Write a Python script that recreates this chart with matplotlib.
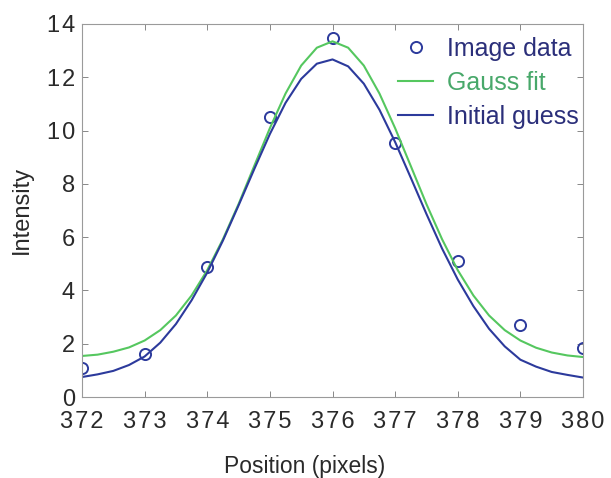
import matplotlib
matplotlib.use("Agg")
import matplotlib.pyplot as plt

# Measured intensity profile
positions = [372, 373, 374, 375, 376, 377, 378, 379, 380]
intensity = [1.10, 1.61, 4.89, 10.50, 13.49, 9.52, 5.10, 2.70, 1.83]

# Curves sampled every quarter pixel
curve_x = [372 + 0.25 * i for i in range(33)]
gauss_fit = [1.54, 1.59, 1.70, 1.86, 2.12, 2.51, 3.06, 3.81, 4.76, 5.92, 7.24,
             8.67, 10.09, 11.39, 12.44, 13.11, 13.35,
             13.11, 12.44, 11.39, 10.09, 8.67, 7.24, 5.92, 4.76, 3.81, 3.06,
             2.51, 2.12, 1.85, 1.67, 1.56, 1.50]
initial_guess = [0.75, 0.85, 0.98, 1.20, 1.52, 2.04, 2.74, 3.63, 4.67, 5.87, 7.19,
                 8.55, 9.87, 11.04, 11.94, 12.51, 12.67,
                 12.41, 11.76, 10.78, 9.57, 8.23, 6.87, 5.57, 4.41, 3.41, 2.56,
                 1.90, 1.40, 1.14, 0.94, 0.83, 0.73]

x_ticks = [372, 373, 374, 375, 376, 377, 378, 379, 380]
y_ticks = [0, 2, 4, 6, 8, 10, 12, 14]

blue = "#2c3a9c"
green = "#55c75f"
text_blue = "#2b2f7a"
text_green = "#48a86a"
ink = "#2a2a2a"

plt.rcParams["font.family"] = ["Liberation Sans", "DejaVu Sans"]


def spaced(v):
    # widen digit spacing slightly with hair spaces
    return "\u200a".join(str(v))


fig = plt.figure(figsize=(6.11, 4.78), dpi=100)
W, H = 611, 478
ax = fig.add_axes([82 / W, 1 - 397 / H, 501 / W, 373 / H])

ax.plot(positions, intensity, linestyle="none", marker="o", markersize=8,
        markerfacecolor="none", markeredgecolor=blue, markeredgewidth=1.4,
        label="Image data")
ax.plot(curve_x, gauss_fit, color=green, lw=1.5, label="Gauss fit")
ax.plot(curve_x, initial_guess, color=blue, lw=1.5, label="Initial guess")

ax.set_xlim(372, 380)
ax.set_ylim(0, 14)
ax.set_xticks(x_ticks)
ax.set_xticklabels([spaced(v) for v in x_ticks])
ax.set_yticks(y_ticks)
ax.set_yticklabels([spaced(v) for v in y_ticks])
ax.tick_params(direction="in", length=4, width=0.7, color="#888888",
               top=True, right=True, labelsize=17, labelcolor=ink)
ax.tick_params(axis="x", pad=10)
ax.tick_params(axis="y", pad=5)
for spine in ax.spines.values():
    spine.set_color("#9a9a9a")
    spine.set_linewidth(0.8)

ax.set_xlabel("Position (pixels)", fontsize=16.5, color=ink)
ax.xaxis.set_label_coords((305 - 82) / 501, (397 - 455) / 373)
ax.xaxis.label.set_va("top")
ax.set_ylabel("Intensity", fontsize=17, color=ink)
ax.yaxis.set_label_coords((33 - 82) / 501, (397 - 210) / 373)

leg = ax.legend(loc="upper left", frameon=False, fontsize=18,
                handlelength=1.4, handletextpad=0.55, labelspacing=0.4,
                borderpad=0, borderaxespad=0,
                bbox_to_anchor=(398 / W, 1 - 37 / H),
                bbox_transform=fig.transFigure)
for txt, col in zip(leg.get_texts(), [text_blue, text_green, text_blue]):
    txt.set_color(col)

fig.savefig("out.png", dpi=100)
